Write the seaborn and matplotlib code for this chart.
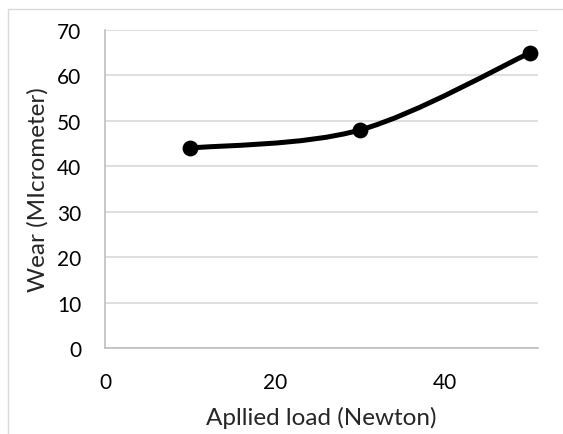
import numpy as np
import pandas as pd
import seaborn as sns
import matplotlib.pyplot as plt
from matplotlib.path import Path
from matplotlib.patches import PathPatch, Rectangle

# wear vs applied load
load = [10, 30, 50]
wear = [44, 48, 65]
x_ticks = [0, 20, 40]
y_ticks = [0, 10, 20, 30, 40, 50, 60, 70]

df = pd.DataFrame({"load": load, "wear": wear})

sns.set_theme(style="white")
plt.rcParams['font.family'] = ['Lato', 'DejaVu Sans']

fig = plt.figure(figsize=(5.63, 4.35), dpi=100)
ax = fig.add_axes([105 / 563, 1 - 349 / 435, 433 / 563, 318 / 435])

# outer chart frame (cut at right and bottom)
fig.add_artist(Rectangle((8 / 563, -0.1), 1.2, 1.1 - 10 / 435, transform=fig.transFigure,
                         fill=False, edgecolor='#d9d9d9', linewidth=1.0))

# smoothed line like excel (catmull-rom bezier)
pts = df[["load", "wear"]].to_numpy(dtype=float)
ext = np.vstack([pts[0], pts, pts[-1]])
verts = [tuple(pts[0])]
codes = [Path.MOVETO]
for i in range(len(pts) - 1):
    p0, p1, p2, p3 = ext[i], ext[i + 1], ext[i + 2], ext[i + 3]
    c1 = p1 + (p2 - p0) / 6
    c2 = p2 - (p3 - p1) / 6
    verts += [tuple(c1), tuple(c2), tuple(p2)]
    codes += [Path.CURVE4] * 3
ax.add_patch(PathPatch(Path(verts, codes), transform=ax.transData, fill=False,
                       edgecolor='black', linewidth=3.6, capstyle='round', zorder=3))

sns.scatterplot(data=df, x="load", y="wear", ax=ax, color='black', s=130,
                edgecolor='black', linewidth=0, zorder=4, clip_on=False)

ax.set_xlim(0, 50.9)
ax.set_ylim(0, 70)
ax.set_xticks(x_ticks)
ax.set_yticks(y_ticks)
ax.yaxis.grid(True, color='#d9d9d9', linewidth=1.2)
ax.xaxis.grid(False)
for s in ['top', 'right']:
    ax.spines[s].set_visible(False)
for s in ['left', 'bottom']:
    ax.spines[s].set_color('#bfbfbf')
    ax.spines[s].set_linewidth(1.2)
ax.tick_params(axis='both', length=0, labelsize=15, colors='black')
ax.tick_params(axis='x', pad=17)
ax.tick_params(axis='y', pad=17)

ax.set_xlabel("Apllied load (Newton)", fontsize=17.5, labelpad=10)
ax.set_ylabel("Wear (MIcrometer)", fontsize=17.5, labelpad=6)

plt.savefig("out.png", dpi=100)
